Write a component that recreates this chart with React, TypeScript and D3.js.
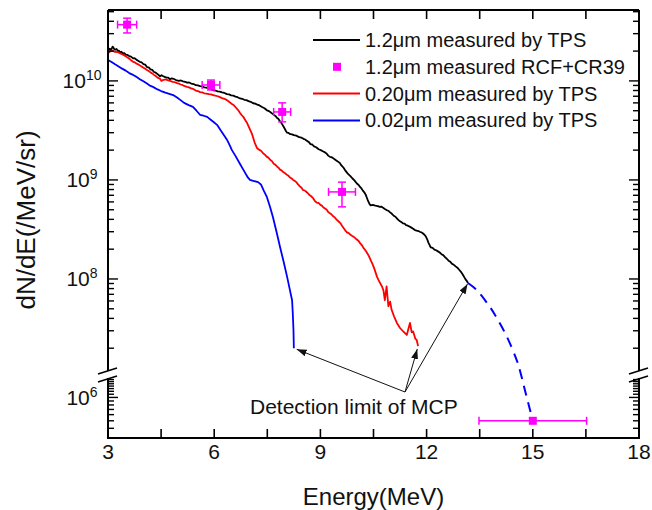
import React from "react";
import * as d3 from "d3";

// ---- data (energy in MeV, dN/dE in /MeV/sr) ----
const black12: [number, number][] = [
  [3.0, 2.0e10], [3.03, 2.08e10], [3.05, 2.12e10], [3.08, 2.05e10], [3.1, 2.1e10], [3.13, 2.22e10],
  [3.15, 2.18e10], [3.18, 2.08e10], [3.2, 2.06e10], [3.24, 2.1e10], [3.28, 2.0e10], [3.31, 2.02e10],
  [3.34, 1.94e10], [3.38, 1.97e10], [3.42, 1.9e10], [3.46, 1.91e10], [3.5, 1.84e10], [3.55, 1.83e10],
  [3.6, 1.78e10], [3.65, 1.76e10], [3.71, 1.69e10], [3.75, 1.7e10], [3.8, 1.64e10], [3.85, 1.6e10],
  [3.9, 1.56e10], [3.95, 1.54e10], [4.0, 1.48e10], [4.05, 1.46e10], [4.1, 1.38e10], [4.15, 1.37e10],
  [4.2, 1.31e10], [4.25, 1.29e10], [4.3, 1.23e10], [4.35, 1.21e10], [4.4, 1.17e10], [4.44, 1.14e10],
  [4.47, 1.11e10], [4.51, 1.14e10], [4.55, 1.12e10], [4.6, 1.1e10], [4.65, 1.08e10], [4.7, 1.08e10],
  [4.75, 1.04e10], [4.8, 1.06e10], [4.85, 1.05e10], [4.92, 1.02e10], [5.0, 1.0e10], [5.06, 1.01e10],
  [5.12, 9.9e9], [5.18, 9.8e9], [5.23, 9.6e9], [5.29, 9.65e9], [5.35, 9.4e9], [5.42, 9.3e9],
  [5.48, 9.05e9], [5.54, 9.0e9], [5.6, 8.85e9], [5.66, 8.8e9], [5.72, 8.6e9], [5.78, 8.55e9],
  [5.85, 8.35e9], [5.91, 8.25e9], [5.97, 8.05e9], [6.03, 8.0e9], [6.1, 7.85e9], [6.16, 7.8e9],
  [6.22, 7.65e9], [6.29, 7.55e9], [6.36, 7.35e9], [6.42, 7.3e9], [6.48, 7.15e9], [6.54, 7.1e9],
  [6.6, 6.95e9], [6.66, 6.85e9], [6.73, 6.65e9], [6.79, 6.6e9], [6.85, 6.45e9], [6.91, 6.4e9],
  [6.97, 6.25e9], [7.03, 6.15e9], [7.1, 5.95e9], [7.16, 5.9e9], [7.22, 5.75e9], [7.28, 5.65e9],
  [7.35, 5.45e9], [7.42, 5.3e9], [7.49, 5.05e9], [7.55, 4.95e9], [7.6, 4.8e9], [7.65, 4.65e9],
  [7.7, 4.5e9], [7.74, 4.4e9], [7.77, 4.25e9], [7.81, 4.15e9], [7.85, 3.95e9], [7.89, 3.8e9],
  [7.93, 3.6e9], [7.97, 3.4e9], [8.0, 3.25e9], [8.03, 3.1e9], [8.06, 3.0e9], [8.1, 2.98e9],
  [8.15, 2.9e9], [8.2, 2.88e9], [8.25, 2.83e9], [8.32, 2.8e9], [8.4, 2.7e9], [8.46, 2.68e9],
  [8.52, 2.6e9], [8.57, 2.56e9], [8.62, 2.48e9], [8.67, 2.42e9], [8.72, 2.3e9], [8.77, 2.28e9],
  [8.82, 2.18e9], [8.88, 2.14e9], [8.95, 2.04e9], [9.01, 2.0e9], [9.08, 1.94e9], [9.13, 1.9e9],
  [9.18, 1.84e9], [9.22, 1.76e9], [9.27, 1.71e9], [9.31, 1.7e9], [9.35, 1.67e9], [9.4, 1.62e9],
  [9.45, 1.57e9], [9.5, 1.53e9], [9.55, 1.48e9], [9.58, 1.42e9], [9.62, 1.37e9], [9.66, 1.32e9],
  [9.7, 1.25e9], [9.74, 1.2e9], [9.78, 1.15e9], [9.84, 1.1e9], [9.9, 1.04e9], [9.96, 9.9e8],
  [10.03, 9.2e8], [10.08, 8.9e8], [10.12, 8.5e8], [10.16, 8.2e8], [10.2, 7.8e8], [10.24, 7.5e8],
  [10.28, 7.1e8], [10.32, 6.5e8], [10.35, 6.1e8], [10.39, 5.7e8], [10.42, 5.55e8], [10.48, 5.6e8],
  [10.55, 5.5e8], [10.62, 5.45e8], [10.68, 5.35e8], [10.72, 5.38e8], [10.77, 5.25e8], [10.82, 5.1e8],
  [10.88, 4.95e8], [10.93, 4.85e8], [10.97, 4.7e8], [11.02, 4.55e8], [11.07, 4.35e8], [11.12, 4.25e8],
  [11.16, 4.1e8], [11.2, 3.95e8], [11.25, 3.82e8], [11.29, 3.75e8], [11.33, 3.65e8], [11.38, 3.62e8],
  [11.42, 3.5e8], [11.47, 3.45e8], [11.52, 3.38e8], [11.57, 3.3e8], [11.62, 3.22e8], [11.67, 3.12e8],
  [11.72, 3.08e8], [11.77, 3.05e8], [11.82, 2.98e8], [11.86, 2.95e8], [11.9, 2.88e8], [11.94, 2.8e8],
  [11.98, 2.68e8], [12.02, 2.5e8], [12.05, 2.33e8], [12.09, 2.18e8], [12.12, 2.08e8], [12.17, 2.06e8],
  [12.22, 1.98e8], [12.27, 1.95e8], [12.32, 1.9e8], [12.37, 1.85e8], [12.42, 1.78e8], [12.47, 1.74e8],
  [12.52, 1.66e8], [12.57, 1.6e8], [12.62, 1.53e8], [12.67, 1.49e8], [12.72, 1.42e8], [12.77, 1.39e8],
  [12.82, 1.34e8], [12.87, 1.3e8], [12.92, 1.24e8], [12.97, 1.18e8], [13.02, 1.11e8], [13.06, 1.05e8],
  [13.1, 9.9e7], [13.14, 9.5e7], [13.17, 9.1e7],
];

const red020: [number, number][] = [
  [3.0, 1.9e10], [3.05, 1.98e10], [3.12, 2.02e10], [3.2, 1.96e10], [3.28, 1.95e10], [3.34, 1.9e10],
  [3.4, 1.86e10], [3.45, 1.82e10], [3.5, 1.78e10], [3.55, 1.72e10], [3.6, 1.68e10], [3.65, 1.62e10],
  [3.71, 1.56e10], [3.76, 1.54e10], [3.8, 1.5e10], [3.85, 1.47e10], [3.9, 1.43e10], [3.95, 1.4e10],
  [4.0, 1.36e10], [4.05, 1.33e10], [4.1, 1.29e10], [4.15, 1.26e10], [4.2, 1.22e10], [4.25, 1.19e10],
  [4.3, 1.15e10], [4.35, 1.12e10], [4.4, 1.08e10], [4.47, 1.05e10], [4.51, 1.0e10], [4.55, 1.02e10],
  [4.6, 1.03e10], [4.65, 1.03e10], [4.7, 1.01e10], [4.75, 1.0e10], [4.83, 9.8e9], [4.89, 9.7e9],
  [4.95, 9.5e9], [5.0, 9.4e9], [5.05, 9.2e9], [5.1, 9.1e9], [5.15, 8.9e9], [5.23, 8.7e9],
  [5.29, 8.6e9], [5.35, 8.4e9], [5.42, 8.25e9], [5.48, 8.0e9], [5.54, 7.9e9], [5.6, 7.7e9],
  [5.66, 7.65e9], [5.72, 7.5e9], [5.78, 7.45e9], [5.85, 7.35e9], [5.91, 7.3e9], [5.97, 7.2e9],
  [6.03, 7.1e9], [6.1, 7.0e9], [6.16, 6.85e9], [6.22, 6.7e9], [6.29, 6.6e9], [6.36, 6.4e9],
  [6.41, 6.2e9], [6.46, 6.0e9], [6.5, 5.85e9], [6.55, 5.7e9], [6.6, 5.45e9], [6.65, 5.2e9],
  [6.69, 5.0e9], [6.73, 4.75e9], [6.78, 4.5e9], [6.83, 4.3e9], [6.88, 4.0e9], [6.93, 3.75e9],
  [7.0, 3.3e9], [7.07, 2.9e9], [7.14, 2.4e9], [7.21, 2.1e9], [7.25, 2.04e9], [7.29, 2.0e9],
  [7.33, 1.96e9], [7.38, 1.86e9], [7.43, 1.8e9], [7.48, 1.72e9], [7.53, 1.68e9], [7.58, 1.6e9],
  [7.63, 1.55e9], [7.68, 1.46e9], [7.73, 1.42e9], [7.78, 1.36e9], [7.82, 1.33e9], [7.86, 1.27e9],
  [7.9, 1.25e9], [7.95, 1.2e9], [8.0, 1.17e9], [8.05, 1.13e9], [8.1, 1.1e9], [8.14, 1.06e9],
  [8.18, 1.04e9], [8.23, 1.0e9], [8.27, 9.8e8], [8.32, 9.5e8], [8.37, 9.0e8], [8.42, 8.6e8],
  [8.46, 8.4e8], [8.51, 7.9e8], [8.55, 7.85e8], [8.6, 7.6e8], [8.65, 7.3e8], [8.7, 7.0e8],
  [8.75, 6.8e8], [8.8, 6.5e8], [8.85, 6.1e8], [8.9, 5.9e8], [8.95, 5.85e8], [9.0, 5.6e8],
  [9.04, 5.5e8], [9.08, 5.3e8], [9.13, 5.15e8], [9.18, 5.0e8], [9.22, 4.75e8], [9.27, 4.6e8],
  [9.31, 4.5e8], [9.36, 4.3e8], [9.4, 4.2e8], [9.45, 4.0e8], [9.5, 3.85e8], [9.55, 3.7e8],
  [9.58, 3.6e8], [9.62, 3.4e8], [9.66, 3.25e8], [9.7, 3.1e8], [9.75, 2.95e8], [9.8, 2.9e8],
  [9.85, 2.8e8], [9.9, 2.72e8], [9.95, 2.65e8], [10.0, 2.55e8], [10.03, 2.5e8], [10.08, 2.42e8],
  [10.12, 2.3e8], [10.17, 2.2e8], [10.22, 2.05e8], [10.27, 1.95e8], [10.32, 1.83e8], [10.37, 1.7e8],
  [10.42, 1.55e8], [10.47, 1.42e8], [10.52, 1.28e8], [10.56, 1.16e8], [10.6, 1.05e8], [10.64, 9.8e7],
  [10.68, 9.2e7], [10.74, 8.4e7], [10.78, 7.7e7], [10.82, 6.1e7], [10.87, 8.4e7], [10.92, 5.3e7],
  [10.97, 5.9e7], [11.01, 4.9e7], [11.08, 4.2e7], [11.16, 3.6e7], [11.25, 3.2e7], [11.34, 2.95e7],
  [11.44, 2.72e7], [11.53, 3.6e7], [11.58, 2.9e7], [11.62, 2.95e7], [11.68, 2.5e7], [11.72, 2.42e7],
  [11.76, 2.1e7],
];

const blue002: [number, number][] = [
  [3.0, 1.63e10], [3.1, 1.55e10], [3.2, 1.47e10], [3.3, 1.4e10], [3.4, 1.33e10], [3.5, 1.27e10],
  [3.6, 1.2e10], [3.71, 1.15e10], [3.8, 1.1e10], [3.9, 1.04e10], [4.0, 9.9e9], [4.1, 9.4e9],
  [4.2, 8.9e9], [4.27, 8.7e9], [4.4, 8.2e9], [4.5, 7.9e9], [4.62, 7.6e9], [4.73, 7.4e9],
  [4.84, 7.2e9], [4.95, 6.8e9], [5.05, 6.4e9], [5.15, 6.0e9], [5.28, 5.7e9], [5.4, 5.46e9],
  [5.5, 5.0e9], [5.6, 4.55e9], [5.7, 4.45e9], [5.8, 4.33e9], [5.92, 4.0e9], [6.0, 3.8e9],
  [6.08, 3.6e9], [6.2, 3.1e9], [6.3, 2.75e9], [6.36, 2.55e9], [6.45, 2.2e9], [6.5, 2.0e9],
  [6.6, 1.75e9], [6.73, 1.45e9], [6.85, 1.22e9], [6.95, 1.06e9], [7.01, 1.0e9], [7.1, 9.8e8],
  [7.24, 9.5e8], [7.32, 9.0e8], [7.4, 7.8e8], [7.49, 6.7e8], [7.58, 5.3e8], [7.66, 4.2e8],
  [7.76, 3.0e8], [7.86, 2.1e8], [7.96, 1.5e8], [8.06, 1.05e8], [8.13, 8.0e7], [8.2, 6.1e7],
  [8.22, 4.5e7], [8.24, 3.0e7], [8.25, 2.0e7],
];

// extrapolated tail of the 0.02 um spectrum down to the CR39 point
const blueTail: [number, number][] = [
  [13.17, 9.1e7], [13.42, 7.7e7], [13.79, 5.2e7], [13.99, 4.0e7], [14.27, 2.6e7],
  [14.55, 1.5e7], [14.67, 4.5e6], [14.78, 1.23e6], [15.0, 5.0e5],
];

// RCF + CR39 points: energy, value, energy half-width, lower, upper
const rcfE = [3.54, 5.91, 7.92, 9.61, 15.0];
const rcfV = [3.7e10, 9.1e9, 4.86e9, 7.57e8, 5.0e5];
const rcfXErr = [0.27, 0.25, 0.24, 0.38, 1.52];
const rcfYLow = [3.05e10, 8.1e9, 3.86e9, 5.35e8, 5.0e5];
const rcfYHigh = [4.3e10, 1.02e10, 6.0e9, 9.5e8, 5.0e5];

const xTickValues = [3, 4.5, 6, 7.5, 9, 10.5, 12, 13.5, 15, 16.5, 18];
const xTickLabels = [3, 6, 9, 12, 15, 18];
const upperDecades = [8, 9, 10];
const lowerDecades = [6];

const legendItems = [
  { label: "1.2\u03bcm measured by TPS", color: "#000000", kind: "line" },
  { label: "1.2\u03bcm measured RCF+CR39", color: "#ff00ff", kind: "square" },
  { label: "0.20\u03bcm measured by TPS", color: "#ff0000", kind: "line" },
  { label: "0.02\u03bcm measured by TPS", color: "#0000ff", kind: "line" },
];

const FONT = "'Liberation Sans', Arial, Helvetica, sans-serif";

export default function App() {
  const L = 108, R = 639, T = 10, B = 438;
  const upBottom = 372, loTop = 378;

  const x = d3.scaleLinear().domain([3, 18]).range([L, R]);
  const yUp = d3.scaleLog().domain([1.15e7, 5.2e10]).range([upBottom, T]);
  const yLo = d3.scaleLog().domain([3e5, 1.78e6]).range([B, loTop]);

  // piecewise y position across the axis break
  const y = (v: number) => {
    if (v >= yUp.domain()[0]) return yUp(v);
    if (v <= yLo.domain()[1]) return yLo(v);
    const t = (Math.log10(v) - Math.log10(yLo.domain()[1])) /
      (Math.log10(yUp.domain()[0]) - Math.log10(yLo.domain()[1]));
    return loTop + (upBottom - loTop) * t;
  };

  const line = d3.line<[number, number]>().x((d) => x(d[0])).y((d) => y(d[1]));
  const tailLine = d3
    .line<[number, number]>()
    .x((d) => x(d[0]))
    .y((d) => y(d[1]))
    .curve(d3.curveCatmullRom.alpha(0.5));

  // y ticks
  const upTicks: { v: number; major: boolean }[] = [];
  for (let n = 7; n <= 10; n++) {
    for (let k = 1; k <= 9; k++) {
      const v = k * Math.pow(10, n);
      if (v >= yUp.domain()[0] && v <= yUp.domain()[1]) upTicks.push({ v, major: k === 1 });
    }
  }
  const loTicks: { v: number; major: boolean }[] = [];
  for (let k = 3; k <= 17; k++) loTicks.push({ v: k * 1e5, major: k === 10 });
  const yTicks = [
    ...upTicks.map((t) => ({ y: yUp(t.v), major: t.major })),
    ...loTicks.map((t) => ({ y: yLo(t.v), major: t.major })),
  ];
  const yLabels = [
    ...upperDecades.map((e) => ({ e, y: yUp(Math.pow(10, e)) })),
    ...lowerDecades.map((e) => ({ e, y: yLo(Math.pow(10, e)) })),
  ];

  // annotation arrows to the end of each TPS trace
  const src = { x: 405, y: 392 };
  const ends = [blue002, red020, black12].map((s) => {
    const p = s[s.length - 1];
    return { x: x(p[0]), y: y(p[1]) };
  });
  const tips = ends.map((e, i) => {
    const dx = src.x - e.x, dy = src.y - e.y;
    const len = Math.hypot(dx, dy);
    const off = i === 2 ? 1 : 3;
    return { x: e.x + (dx / len) * off, y: e.y + (dy / len) * off };
  });

  const axisColor = "#000";
  const magenta = "#ff00ff";

  const breakMarks = (cx: number) => (
    <g stroke={axisColor} strokeWidth={1.6}>
      <line x1={cx - 10} y1={upBottom + 2} x2={cx + 9} y2={upBottom - 4} />
      <line x1={cx - 10} y1={loTop + 4} x2={cx + 9} y2={loTop - 2} />
    </g>
  );

  return (
    <svg
      width={652}
      height={510}
      style={{ position: "absolute", left: 0, top: 0, background: "#fff" }}
      fontFamily={FONT}
    >
      <defs>
        <marker id="arrowHead" viewBox="0 0 10 7" refX={10} refY={3.5} markerWidth={10} markerHeight={7}
          markerUnits="userSpaceOnUse" orient="auto">
          <path d="M0,0 L10,3.5 L0,7 z" fill="#111" />
        </marker>
      </defs>
      <rect x={0} y={0} width={652} height={510} fill="#fff" />

      {/* data traces */}
      <path d={line(black12) || ""} fill="none" stroke="#000" strokeWidth={1.8} strokeLinejoin="round" />
      <path d={line(red020) || ""} fill="none" stroke="#ff0000" strokeWidth={1.8} strokeLinejoin="round" />
      <path d={line(blue002) || ""} fill="none" stroke="#0000ff" strokeWidth={1.8} strokeLinejoin="round" />
      <path d={tailLine(blueTail) || ""} fill="none" stroke="#0000ff" strokeWidth={2} strokeDasharray="10,7" />

      {/* RCF + CR39 points */}
      {rcfE.map((e, i) => {
        const cx = x(e), cy = y(rcfV[i]);
        const x0 = x(e - rcfXErr[i]), x1 = x(e + rcfXErr[i]);
        const yTop = y(rcfYHigh[i]), yBot = y(rcfYLow[i]);
        return (
          <g key={i} stroke={magenta} strokeWidth={1.5}>
            <line x1={x0} y1={cy} x2={x1} y2={cy} />
            <line x1={x0} y1={cy - 4} x2={x0} y2={cy + 4} />
            <line x1={x1} y1={cy - 4} x2={x1} y2={cy + 4} />
            {yBot - yTop > 1 && (
              <>
                <line x1={cx} y1={yTop} x2={cx} y2={yBot} />
                <line x1={cx - 4} y1={yTop} x2={cx + 4} y2={yTop} />
                <line x1={cx - 4} y1={yBot} x2={cx + 4} y2={yBot} />
              </>
            )}
            <rect x={cx - 4} y={cy - 4} width={8} height={8} fill={magenta} stroke="none" />
          </g>
        );
      })}

      {/* frame */}
      <g stroke={axisColor} strokeWidth={2} fill="none">
        <line x1={L} y1={T} x2={R} y2={T} />
        <line x1={L} y1={B} x2={R} y2={B} />
        <line x1={L} y1={T} x2={L} y2={upBottom - 1} />
        <line x1={L} y1={loTop} x2={L} y2={B + 1} />
        <line x1={R} y1={T} x2={R} y2={upBottom - 1} />
        <line x1={R} y1={loTop} x2={R} y2={B + 1} />
      </g>
      {breakMarks(L)}
      {breakMarks(R)}

      {/* x ticks */}
      <g stroke={axisColor} strokeWidth={1.6}>
        {xTickValues.map((v) => (
          <g key={v}>
            <line x1={x(v)} y1={B} x2={x(v)} y2={B - 9} />
            <line x1={x(v)} y1={T} x2={x(v)} y2={T + 9} />
          </g>
        ))}
      </g>
      {xTickLabels.map((v) => (
        <text key={v} x={x(v)} y={459} textAnchor="middle" fontSize={21} fill="#111">
          {v}
        </text>
      ))}

      {/* y ticks */}
      <g stroke={axisColor} strokeWidth={1.4}>
        {yTicks.map((t, i) => {
          const len = t.major ? 10 : 6;
          return (
            <g key={i}>
              <line x1={L} y1={t.y} x2={L + len} y2={t.y} />
              <line x1={R} y1={t.y} x2={R - len} y2={t.y} />
            </g>
          );
        })}
      </g>
      {yLabels.map((l) => (
        <text key={l.e} x={82} y={l.y + 7.5} textAnchor="middle" fontSize={21} fill="#111">
          10
          <tspan fontSize={14} dy={-8}>{l.e}</tspan>
        </text>
      ))}

      {/* axis titles */}
      <text x={(L + R) / 2} y={505} textAnchor="middle" fontSize={24} fill="#111">
        Energy(MeV)
      </text>
      <text transform={`translate(35,${(T + B) / 2 - 4}) rotate(-90)`} textAnchor="middle" fontSize={26} fill="#111">
        dN/dE(/MeV/sr)
      </text>

      {/* legend */}
      {legendItems.map((it, i) => {
        const cy = 40 + i * 26.8;
        return (
          <g key={it.label}>
            {it.kind === "line" ? (
              <line x1={313} y1={cy} x2={360} y2={cy} stroke={it.color} strokeWidth={2} />
            ) : (
              <rect x={333} y={cy - 4} width={8} height={8} fill={it.color} />
            )}
            <text x={365} y={cy + 7} fontSize={20} fill="#111">
              {it.label}
            </text>
          </g>
        );
      })}

      {/* detection limit annotation */}
      <g stroke="#111" strokeWidth={1}>
        {tips.map((p, i) => (
          <line key={i} x1={src.x} y1={src.y} x2={p.x} y2={p.y} markerEnd="url(#arrowHead)" />
        ))}
      </g>
      <text x={250} y={414} fontSize={21} fill="#111">
        Detection limit of MCP
      </text>
    </svg>
  );
}
